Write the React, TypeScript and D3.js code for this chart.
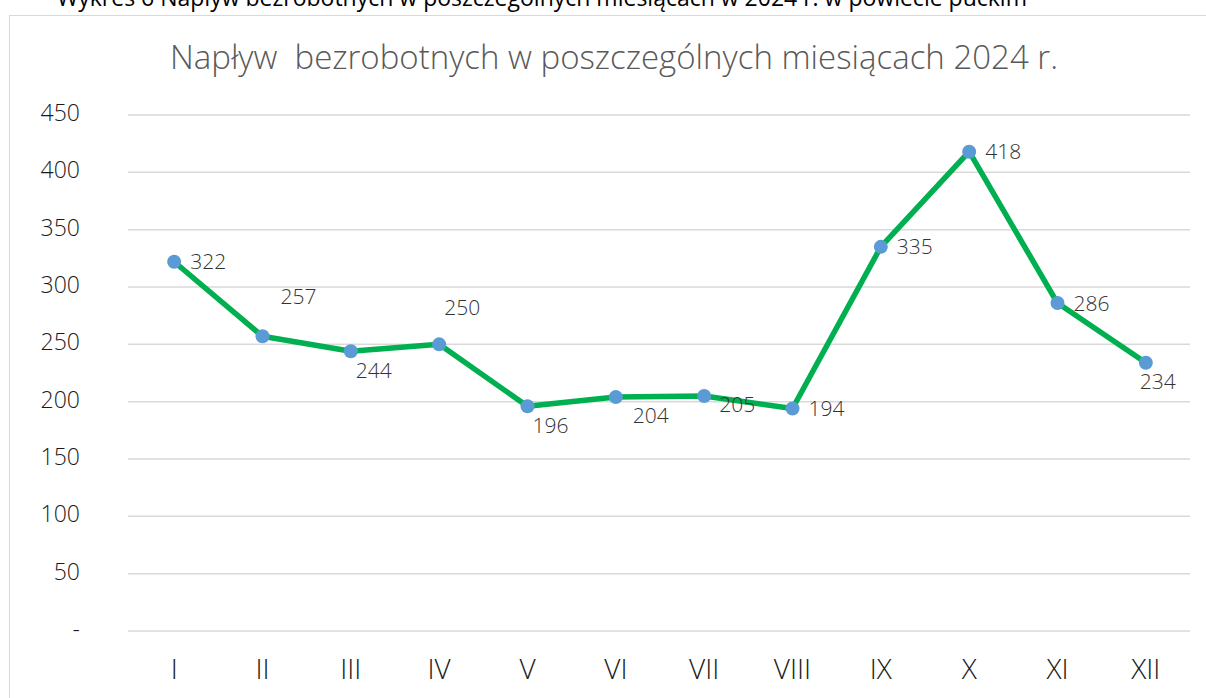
import React from 'react';
import * as d3 from 'd3';

// data
const months = ['I', 'II', 'III', 'IV', 'V', 'VI', 'VII', 'VIII', 'IX', 'X', 'XI', 'XII'];
const inflow = [322, 257, 244, 250, 196, 204, 205, 194, 335, 418, 286, 234];
const yTicks = [0, 50, 100, 150, 200, 250, 300, 350, 400, 450];

const caption = 'Wykres 6 Napływ bezrobotnych w poszczególnych miesiącach w 2024 r. w powiecie puckim';
const title = 'Napływ  bezrobotnych w poszczególnych miesiącach 2024 r.';

// data label offsets from each marker, in px (layout only, as placed in the original)
const labelOffsets: [number, number][] = [
  [34, 2], [36, -38], [23, 21], [23, -35], [23, 21], [35, 20],
  [33, 10], [34, 2], [34, 2], [34, 2], [34, 2], [12, 21],
];

const W = 1206;
const H = 698;
const font = '"Open Sans", sans-serif';

const App = () => {
  const x = d3.scaleBand<string>().domain(months).range([130, 1190]);
  const y = d3.scaleLinear().domain([0, 450]).range([631, 115]);
  const cx = (m: string) => (x(m) as number) + x.bandwidth() / 2;

  const line = d3.line<number>()
    .x((d, i) => cx(months[i]))
    .y(d => y(d));

  return (
    <svg width={W} height={H} style={{ position: 'absolute', left: 0, top: 0, background: '#fff' }}>
      <text x={57} y={6} fontFamily={font} fontWeight={500} fontSize={23} fill="#000">{caption}</text>
      <rect x={9.5} y={15.5} width={1220} height={720} fill="#fff" stroke="#d9d9d9" strokeWidth={1} />

      <text x={614} y={60} textAnchor="middle" dominantBaseline="middle" style={{ whiteSpace: 'pre' }}
        fontFamily={font} fontWeight={300} fontSize={33} fill="#595959">{title}</text>

      {yTicks.map(t => (
        <g key={t}>
          <line x1={128} x2={1190} y1={y(t)} y2={y(t)} stroke="#d9d9d9" strokeWidth={1.5} />
          <text x={80} y={y(t)} textAnchor="end" dominantBaseline="middle"
            fontFamily={font} fontWeight={300} fontSize={23} fill="#1a1a1a">{t === 0 ? '-' : t}</text>
        </g>
      ))}

      {months.map(m => (
        <text key={m} x={cx(m)} y={672} textAnchor="middle" dominantBaseline="middle"
          fontFamily={font} fontWeight={300} fontSize={28} fill="#1a1a1a">{m}</text>
      ))}

      <path d={line(inflow) || ''} fill="none" stroke="#00b050" strokeWidth={5.5} strokeLinejoin="round" />

      {inflow.map((v, i) => (
        <circle key={i} cx={cx(months[i])} cy={y(v)} r={7} fill="#5b9bd5" />
      ))}

      {inflow.map((v, i) => (
        <text key={i} x={cx(months[i]) + labelOffsets[i][0]} y={y(v) + labelOffsets[i][1]}
          textAnchor="middle" dominantBaseline="middle"
          fontFamily={font} fontWeight={300} fontSize={21} fill="#333">{v}</text>
      ))}
    </svg>
  );
};

export default App;
